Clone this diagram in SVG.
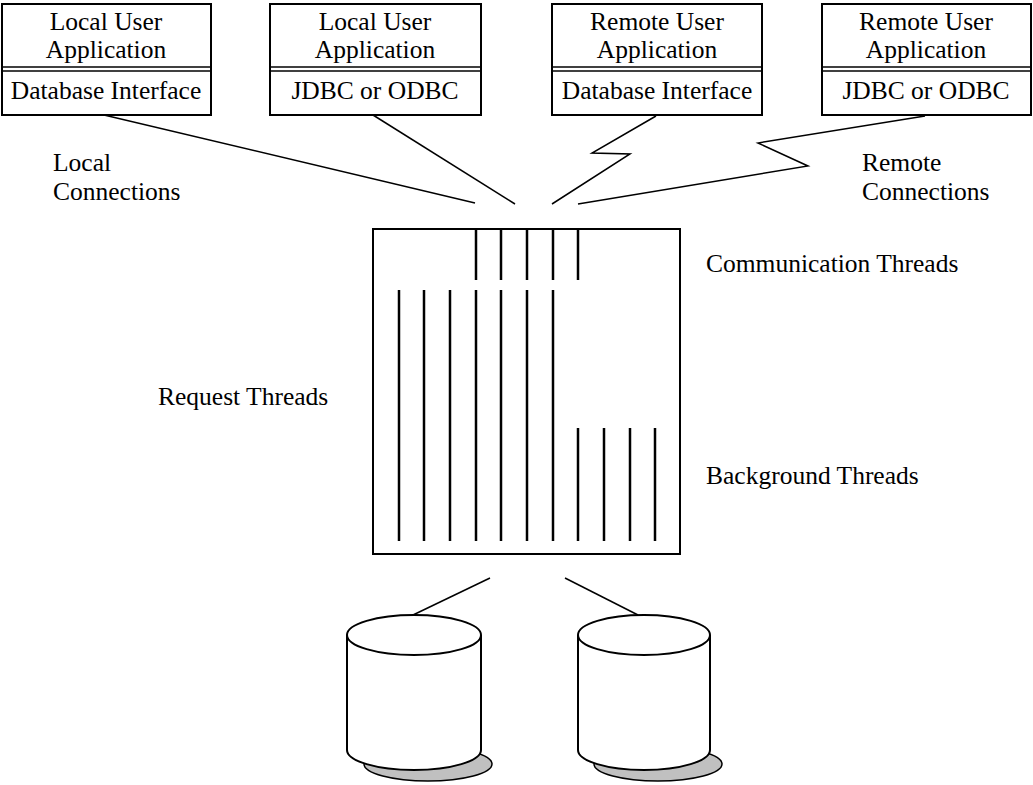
<svg xmlns="http://www.w3.org/2000/svg" width="1033" height="785" viewBox="0 0 1033 785" font-family="'Liberation Serif', 'Times New Roman', 'DejaVu Serif', serif">
<style>
text{font-family:'Liberation Serif','Times New Roman','DejaVu Serif',serif;font-size:25.5px;fill:#000}
.c{text-anchor:middle}
.b{fill:#fff;stroke:#000;stroke-width:2}
.l{fill:none;stroke:#000;stroke-width:1.5}
.t{stroke:#000;stroke-width:2.5}
.sh{fill:#c0c0c0;stroke:#000;stroke-width:1.5}
</style>
<rect width="1033" height="785" fill="#fff"/>
<g id="n1">
<rect class="b" x="2" y="4" width="209" height="111"/>
<line class="l" x1="2" y1="67" x2="211" y2="67"/><line class="l" x1="2" y1="71" x2="211" y2="71"/>
<text class="c" x="106" y="30">Local User</text><text class="c" x="106" y="58">Application</text>
<text class="c" x="106" y="99">Database Interface</text>
</g>
<g id="n2">
<rect class="b" x="270" y="4" width="211" height="111"/>
<line class="l" x1="270" y1="67" x2="481" y2="67"/><line class="l" x1="270" y1="71" x2="481" y2="71"/>
<text class="c" x="375" y="30">Local User</text><text class="c" x="375" y="58">Application</text>
<text class="c" x="375" y="99">JDBC or ODBC</text>
</g>
<g id="n3">
<rect class="b" x="552" y="4" width="210" height="111"/>
<line class="l" x1="552" y1="67" x2="762" y2="67"/><line class="l" x1="552" y1="71" x2="762" y2="71"/>
<text class="c" x="657" y="30">Remote User</text><text class="c" x="657" y="58">Application</text>
<text class="c" x="657" y="99">Database Interface</text>
</g>
<g id="n4">
<rect class="b" x="822" y="4" width="209" height="111"/>
<line class="l" x1="822" y1="67" x2="1031" y2="67"/><line class="l" x1="822" y1="71" x2="1031" y2="71"/>
<text class="c" x="926" y="30">Remote User</text><text class="c" x="926" y="58">Application</text>
<text class="c" x="926" y="99">JDBC or ODBC</text>
</g>
<g id="server">
<rect class="b" x="373" y="229" width="307" height="325"/>
<g class="t">
<line x1="476" y1="229" x2="476" y2="280"/><line x1="501" y1="229" x2="501" y2="280"/><line x1="527" y1="229" x2="527" y2="280"/><line x1="553" y1="229" x2="553" y2="280"/><line x1="578" y1="229" x2="578" y2="280"/>
<line x1="399" y1="290" x2="399" y2="541"/><line x1="424" y1="290" x2="424" y2="541"/><line x1="450" y1="290" x2="450" y2="541"/><line x1="476" y1="290" x2="476" y2="541"/><line x1="501" y1="290" x2="501" y2="541"/><line x1="527" y1="290" x2="527" y2="541"/><line x1="553" y1="290" x2="553" y2="541"/>
<line x1="578" y1="428" x2="578" y2="541"/><line x1="604" y1="428" x2="604" y2="541"/><line x1="630" y1="428" x2="630" y2="541"/><line x1="655" y1="428" x2="655" y2="541"/>
</g>
</g>
<g id="db1">
<ellipse class="sh" cx="428" cy="764" rx="64" ry="17"/>
<path class="b" d="M347,635 V750 A67,20 0 0 0 481,750 V635"/>
<ellipse class="b" cx="414" cy="635" rx="67" ry="20"/>
</g>
<g id="db2">
<ellipse class="sh" cx="658" cy="764" rx="64" ry="17"/>
<path class="b" d="M578,635 V750 A66,20 0 0 0 710,750 V635"/>
<ellipse class="b" cx="644" cy="635" rx="66" ry="20"/>
</g>
<g id="connectors">
<polyline class="l" points="104,115 475,203"/>
<polyline class="l" points="373,115 515,204"/>
<polyline class="l" points="656,116 592,153 630,154 552,204"/>
<polyline class="l" points="925,116 758,143 808,166 578,204"/>
<polyline class="l" points="490,578 413,615"/>
<polyline class="l" points="565,578 638,615"/>
</g>
<g id="labels">
<text x="53" y="171">Local</text><text x="53" y="200">Connections</text>
<text x="862" y="171">Remote</text><text x="862" y="200">Connections</text>
<text x="706" y="272">Communication Threads</text>
<text x="158" y="405">Request Threads</text>
<text x="706" y="484">Background Threads</text>
</g>
</svg>
